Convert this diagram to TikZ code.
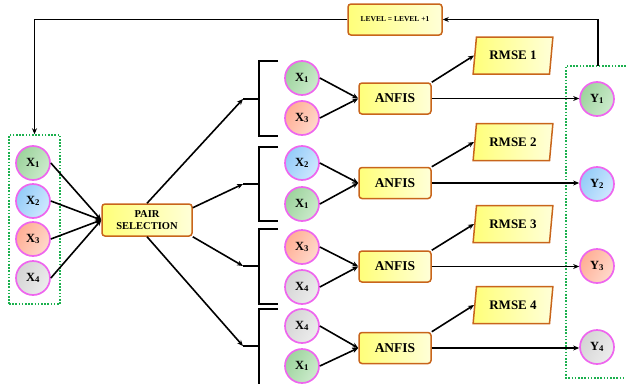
\documentclass[tikz,border=0pt]{standalone}
\usepackage{fontspec}
\setmainfont{Liberation Serif}
\usetikzlibrary{arrows.meta,shapes.geometric}
\definecolor{ringc}{HTML}{EE66EE}
\definecolor{gd}{HTML}{9CD39C}\definecolor{gl}{HTML}{CDEBCD}
\definecolor{bd}{HTML}{94CCF8}\definecolor{bl}{HTML}{CFE8FF}
\definecolor{sd}{HTML}{FFAE94}\definecolor{sl}{HTML}{FFD9CB}
\definecolor{kd}{HTML}{D4D4D4}\definecolor{kl}{HTML}{EDEDED}
\definecolor{boxb}{HTML}{C8651B}
\definecolor{yd}{HTML}{FFFF7A}\definecolor{yl}{HTML}{FFFFD8}
\definecolor{dotg}{HTML}{1BB04E}
\begin{document}
\begin{tikzpicture}[x=1pt,y=-1pt,
  circ/.style={circle,draw=ringc,line width=1.7pt,minimum size=34pt,inner sep=0pt,
    font=\bfseries\fontsize{12.5}{12}\selectfont},
  cg/.style={circ,left color=gd,right color=gl,shading angle=60},
  cb/.style={circ,left color=bd,right color=bl,shading angle=60},
  cs/.style={circ,left color=sd,right color=sl,shading angle=60},
  ck/.style={circ,left color=kd,right color=kl,shading angle=60},
  ybox/.style={draw=boxb,line width=1.5pt,rounded corners=3pt,left color=yd,right color=yl,
    inner sep=0pt,align=center,font=\bfseries},
  anfis/.style={ybox,minimum width=72pt,minimum height=31pt,font=\bfseries\fontsize{13.5}{14}\selectfont},
  rmse/.style={trapezium,trapezium left angle=76,trapezium right angle=104,trapezium stretches=true,
    draw=boxb,line width=1.5pt,left color=yd,right color=yl,minimum width=80pt,minimum height=37pt,
    inner sep=0pt,font=\bfseries\fontsize{13}{13}\selectfont},
  arr/.style={line width=1.6pt,-{Stealth[length=6pt,width=5pt]}},
  brk/.style={line width=2.3pt},
  dotbox/.style={draw=dotg,line width=1.5pt,dash pattern=on 1.6pt off 1.6pt}
]
\useasboundingbox (0,0) rectangle (626,383);

% left input box
\node[dotbox,minimum width=51pt,minimum height=169pt,inner sep=0pt] (xbox) at (34.5,219.5) {};
\node[cg] (x1) at (33,163) {X\textsubscript{1}};
\node[cb] (x2) at (33,201) {X\textsubscript{2}};
\node[cs] (x3) at (33,239) {X\textsubscript{3}};
\node[ck] (x4) at (33,278) {X\textsubscript{4}};

\node[ybox,minimum width=90pt,minimum height=32pt,font=\bfseries\fontsize{10.5}{11.5}\selectfont] (pair) at (147,220) {PAIR\\SELECTION};
\foreach \i in {1,...,4}{\draw[arr] (x\i.east) -- (pair.west);}

% brackets
\coordinate (b1) at (243,99);
\coordinate (b2) at (243,184);
\coordinate (b3) at (243,266);
\coordinate (b4) at (243,346);
\draw[arr] (pair.north) -- (b1);
\draw[arr] (pair.15) -- (b2);
\draw[arr] (pair.south east) -- (b3);
\draw[arr] (pair.south) -- (b4);
\draw[brk] (b1) -- (259,99);
\draw[brk] (b2) -- (259,184);
\draw[brk] (b3) -- (259,266);
\draw[brk] (b4) -- (259,346);
\draw[brk] (278,61) -- (259,61) -- (259,136) -- (278,136);
\draw[brk] (278,147) -- (259,147) -- (259,221) -- (278,221);
\draw[brk] (278,229) -- (259,229) -- (259,304) -- (278,304);
\draw[brk] (278,309) -- (259,309) -- (259,384);

% pair circles
\node[cg] (p11) at (302,78) {X\textsubscript{1}};
\node[cs] (p12) at (302,118) {X\textsubscript{3}};
\node[cb] (p21) at (302,163) {X\textsubscript{2}};
\node[cg] (p22) at (302,204) {X\textsubscript{1}};
\node[cs] (p31) at (302,247) {X\textsubscript{3}};
\node[ck] (p32) at (302,287) {X\textsubscript{4}};
\node[ck] (p41) at (302,326) {X\textsubscript{4}};
\node[cg] (p42) at (302,366) {X\textsubscript{1}};

% ANFIS
\node[anfis] (a1) at (395,98.5) {ANFIS};
\node[anfis] (a2) at (395,183) {ANFIS};
\node[anfis] (a3) at (395,266.5) {ANFIS};
\node[anfis] (a4) at (395,348) {ANFIS};
\foreach \i in {1,...,4}{
  \draw[arr] (p\i1.east) -- (a\i.west);
  \draw[arr] (p\i2.east) -- (a\i.west);
}

% RMSE
\node[rmse] (r1) at (513,55.5) {RMSE 1};
\node[rmse] (r2) at (513,142) {RMSE 2};
\node[rmse] (r3) at (513,224) {RMSE 3};
\node[rmse] (r4) at (513,305) {RMSE 4};
\foreach \i in {1,...,4}{\draw[arr] (a\i.north east) -- (r\i.west);}

% right output box
\draw[dotbox] (626,66) -- (566,66) -- (566,378) -- (626,378);
\coordinate (ytop) at (598,66);
\node[cg] (y1) at (597,99) {Y\textsubscript{1}};
\node[cb] (y2) at (597,184) {Y\textsubscript{2}};
\node[cs] (y3) at (597,266) {Y\textsubscript{3}};
\node[ck] (y4) at (597,347) {Y\textsubscript{4}};
\foreach \i in {1,...,4}{\draw[arr] (a\i.east) -- (y\i.west |- a\i.east);}

% feedback
\node[ybox,minimum width=94pt,minimum height=31pt,font=\bfseries\fontsize{7.5}{8}\selectfont] (lvl) at (395,19.5) {LEVEL = LEVEL +1};
\draw[arr] (ytop) |- (lvl.east);
\draw[arr] (lvl.west) -| (xbox.north);
\end{tikzpicture}
\end{document}
